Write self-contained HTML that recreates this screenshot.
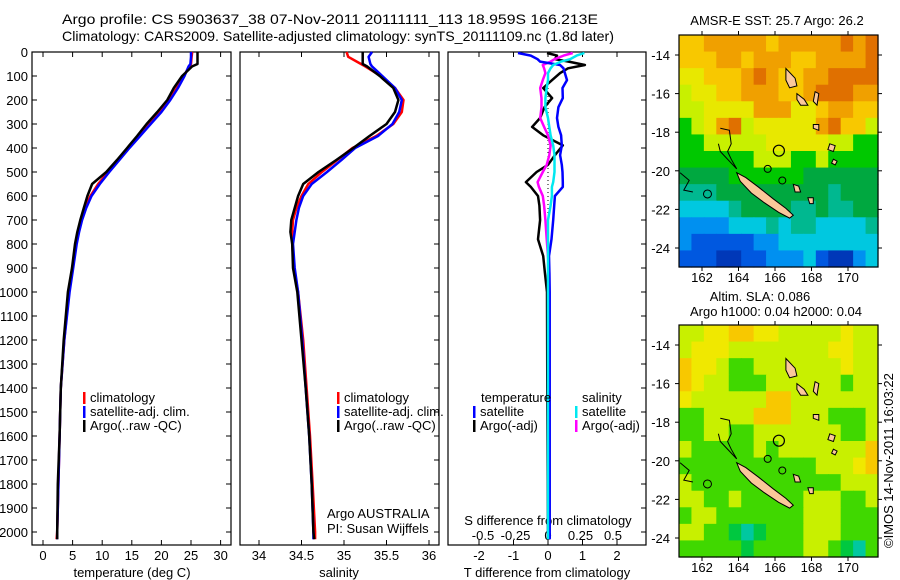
<!DOCTYPE html>
<html><head><meta charset="utf-8">
<style>
html,body{margin:0;padding:0;background:#fff;}
svg{display:block;font-family:"Liberation Sans",sans-serif;}
text{fill:#000;}
</style></head>
<body>
<svg id="fig" width="900" height="580" viewBox="0 0 900 580" xmlns="http://www.w3.org/2000/svg">
<text x="62" y="24" font-size="14" textLength="536" lengthAdjust="spacingAndGlyphs">Argo profile: CS 5903637_38 07-Nov-2011 20111111_113 18.959S 166.213E</text>
<text x="62" y="41" font-size="14" textLength="552" lengthAdjust="spacingAndGlyphs">Climatology: CARS2009. Satellite-adjusted climatology: synTS_20111109.nc (1.8d later)</text>
<g id="plots"></g>
</svg>
<script>
// ---------- data ----------
const depths = [0,20,50,60,100,150,200,250,300,350,400,450,500,550,600,650,700,750,800,900,1000,1200,1400,1600,1800,2000,2030];
const tempClim = [25.2,25.1,25.0,24.7,23.8,22.6,21.3,19.8,18.0,16.3,14.5,12.8,11.0,9.3,8.0,7.1,6.5,6.0,5.6,5.0,4.4,3.6,3.0,2.8,2.6,2.4,2.3];
const tempSat  = [25.0,25.0,24.9,24.6,23.9,22.8,21.5,20.0,18.2,16.4,14.6,12.9,11.2,9.6,8.2,7.3,6.6,6.1,5.7,5.1,4.5,3.6,3.0,2.8,2.6,2.4,2.4];
const tempArgo = [26.1,26.1,26.1,25.2,23.5,22.1,21.0,19.3,17.5,15.9,14.2,12.5,10.7,8.3,7.5,6.9,6.3,5.8,5.4,4.9,4.2,3.5,3.0,2.8,2.5,2.4,2.4];
const salClim = [35.03,35.05,35.2,35.25,35.43,35.6,35.7,35.68,35.58,35.38,35.1,34.92,34.74,34.58,34.5,34.44,34.4,34.39,34.39,34.41,34.46,34.52,34.56,34.6,34.63,34.66,34.66];
const salSat  = [35.33,35.29,35.31,35.33,35.45,35.6,35.68,35.65,35.57,35.4,35.13,34.97,34.8,34.62,34.52,34.47,34.44,34.42,34.4,34.42,34.46,34.51,34.55,34.59,34.62,34.64,34.64];
const salArgo = [35.22,35.22,35.22,35.27,35.42,35.58,35.64,35.6,35.5,35.3,35.11,34.91,34.7,34.52,34.46,34.42,34.38,34.37,34.39,34.4,34.45,34.5,34.55,34.59,34.62,34.64,34.65];
const diffDepths = [4,15,30,40,54,68,88,117,150,192,230,275,312,347,389,430,470,500,542,562,600,640,700,780,850,920,1000,1400,2000,2030];
const tDiffSat  = [-0.87,-0.5,-0.3,-0.23,0.35,0.45,0.49,0.55,0.42,0.43,0.3,0.26,0.3,0.38,0.4,0.35,0.4,0.42,0.43,0.43,0.2,0.18,0.15,0.1,0.03,0.04,0.05,0.05,0.05,0.05];
const tDiffArgo = [-0.03,0.26,0.2,0.6,1.07,0.58,0.35,0.12,-0.14,0.12,-0.1,-0.23,-0.46,-0.14,0.43,0.2,0.0,-0.33,-0.64,-0.5,-0.29,-0.25,-0.23,-0.29,-0.14,-0.09,-0.03,-0.02,0.0,0.0];
const sDiffSat  = [0.28,0.22,0.17,0.1,0.04,0.02,0.0,0.0,-0.01,-0.02,-0.02,0.0,0.01,0.02,0.04,0.05,0.05,0.05,0.04,0.03,0.03,0.02,0.0,0.0,0.0,0.0,0.0,0.0,0.0,0.0];
const sDiffArgo = [0.19,0.12,0.05,0.02,-0.04,-0.03,-0.02,-0.04,-0.06,-0.05,-0.05,-0.06,-0.03,0.0,0.02,0.01,-0.01,-0.04,-0.08,-0.07,-0.04,-0.03,-0.02,-0.01,0.0,0.01,0.01,0.01,0.01,0.01];
const depthTicks = [0,100,200,300,400,500,600,700,800,900,1000,1100,1200,1300,1400,1500,1600,1700,1800,1900,2000];
const tempTicks = [0,5,10,15,20,25,30];
const salTicks = [34,34.5,35,35.5,36];
const tDiffTicks = [-2,-1,0,1,2];
const sDiffTicks = [-0.5,-0.25,0,0.25,0.5];
const lonTicks = [162,164,166,168,170];
const latTicks = [-14,-16,-18,-20,-22,-24];
// SST grid rows (top=north)
const sstRows = ["YYoooooYoooooOoO","YYYooYoooYYooooO","yyYYYoOoYYooOOOO","lyyYYoooYYoOOOoo","llyyyyoooyyYooYY","GlyoOlyyyyyoOYYl","GGlllllyyyyyllGG","GGGGGGlllGGlGGGG","ggggGGGGGGgggggg","tttgggggggggtggg","cccctggggttgttgg","bbbbccctcttcccct","bBBBBBbbcccccccc","BBBDDBBbbbcBDDbc"];
const slaRows = ["llyyYYyylllllyll","lyyyllllllllyyll","YyylGGlllllllyll","YyllGGGllllllGll","yllllllYYlllllll","GGllllYYYlllGGGl","GGllGGlllllllGGl","lGGGGGlGlllllllY","GGGGGGGGGGGlllyY","lGGGGGGGGGGGGlll","llGGlGGGGGlllGGl","GllGGGGGGGlllGGG","llGGgtgGGGlllGGG","GGGGGgGGGGllGgtG"];

const NS="http://www.w3.org/2000/svg";
const root=document.getElementById('plots');
function el(tag,attrs,parent){const e=document.createElementNS(NS,tag);for(const k in attrs)e.setAttribute(k,attrs[k]);(parent||root).appendChild(e);return e;}
function txt(s,x,y,attrs,parent){const t=el('text',Object.assign({x:x,y:y,'font-size':12},attrs||{}),parent);t.textContent=s;return t;}

const TOP=52,BOT=545;
const yD=d=>TOP+d*0.24;
const panels=[
 {x0:32,x1:231,xf:v=>43+v*5.92,name:'temperature-panel'},
 {x0:240,x1:439,xf:v=>259+(v-34)*85,name:'salinity-panel'},
 {x0:448,x1:646,xf:v=>548+v*34.5,name:'difference-panel'}
];
const sX=v=>548+v*130;

function line(xs,vals,dArr,f,color,name,width){
  const g=el('polyline',{points:vals.map((v,i)=>f(v).toFixed(1)+','+yD(dArr[i]).toFixed(1)).join(' '),fill:'none',stroke:color,'stroke-width':width||2.5,'stroke-linejoin':'round'});
  
  
  return g;
}

panels.forEach((p,pi)=>{
  const fr=el('rect',{x:p.x0,y:TOP,width:p.x1-p.x0,height:BOT-TOP,fill:'none',stroke:'#000','stroke-width':1.2});
  
  
  depthTicks.forEach(d=>{
    if(pi==0){el('line',{x1:p.x0,x2:p.x0+5,y1:yD(d),y2:yD(d),stroke:'#000'});}
    el('line',{x1:p.x1-5,x2:p.x1,y1:yD(d),y2:yD(d),stroke:'#000'});
  });
});
depthTicks.forEach(d=>{
  const t=txt(String(d),28,yD(d)+5,{'text-anchor':'end','font-size':13});
  
  
});
// x ticks
function xTicks(p,ticks,f,labelY,fmt){
  ticks.forEach(v=>{
    const x=f(v);
    el('line',{x1:x,x2:x,y1:TOP,y2:TOP+5,stroke:'#000'});
    el('line',{x1:x,x2:x,y1:BOT-5,y2:BOT,stroke:'#000'});
    const t=txt(fmt?fmt(v):String(v),x,labelY,{'text-anchor':'middle','font-size':13});
    
    
  });
}
xTicks(panels[0],tempTicks,panels[0].xf,560);
xTicks(panels[1],salTicks,panels[1].xf,560);
xTicks(panels[2],tDiffTicks,panels[2].xf,560);
sDiffTicks.forEach(v=>{const t=txt(String(v).replace('-0.','-0.'),sX(v),540,{'text-anchor':'middle','font-size':13});
 });
[['temperature (deg C)',132],['salinity',339],['T difference from climatology',547]].forEach(a=>{
 const t=txt(a[0],a[1],577,{'text-anchor':'middle','font-size':13});
 });
{const t=txt('S difference from climatology',548,525,{'text-anchor':'middle','font-size':13});
 }

// series
line(0,tempClim,depths,panels[0].xf,'#ff0000','temp-climatology-line');
line(0,tempSat,depths,panels[0].xf,'#0000ff','temp-satellite-line');
line(0,tempArgo,depths,panels[0].xf,'#000000','temp-argo-line');
line(0,salClim,depths,panels[1].xf,'#ff0000','sal-climatology-line');
line(0,salSat,depths,panels[1].xf,'#0000ff','sal-satellite-line');
line(0,salArgo,depths,panels[1].xf,'#000000','sal-argo-line');
{const z=el('line',{x1:548,x2:548,y1:yD(150),y2:yD(1000),stroke:'#000','stroke-dasharray':'1,3'});
 }
line(0,tDiffArgo,diffDepths,panels[2].xf,'#000000','t-diff-argo-line');
line(0,sDiffArgo,diffDepths,sX,'#ff00ff','s-diff-argo-line');
line(0,tDiffSat,diffDepths,panels[2].xf,'#0000ff','t-diff-satellite-line');
line(0,sDiffSat,diffDepths,sX,'#00e8f0','s-diff-satellite-line');

// legends
function legend(x,y,items,prefix){
  items.forEach((it,i)=>{
    if(it[1]){const r=el('rect',{x:x,y:y+i*14-10,width:2.5,height:12,fill:it[1]});}
    const t=txt(it[0],x+(it[1]?7:0),y+i*14,{'font-size':13});
    
    
  });
}
legend(83,402,[['climatology','#ff0000'],['satellite-adj. clim.','#0000ff'],['Argo(..raw -QC)','#000000']],'temp');
legend(337,402,[['climatology','#ff0000'],['satellite-adj. clim.','#0000ff'],['Argo(..raw -QC)','#000000']],'sal');
legend(481,402,[['temperature',null]],'t-diff');
legend(473,416,[['satellite','#0000ff'],['Argo(-adj)','#000000']],'t-diff');
legend(582,402,[['salinity',null]],'s-diff');
legend(575,416,[['satellite','#00e8f0'],['Argo(-adj)','#ff00ff']],'s-diff');
{const t=txt('Argo AUSTRALIA',327,518,{'font-size':13});
 const u=txt('PI: Susan Wijffels',327,533,{'font-size':13});}

// ---------- maps ----------
const pal={O:'#e07000',o:'#f0a000',Y:'#f8c800',y:'#e8e800',l:'#c8f000',G:'#00c800',g:'#00a840',t:'#00b890',c:'#00c8e0',b:'#0090f0',B:'#0058e0',D:'#0038b8'};
const palSla={Y:'#f8c800',y:'#f0e800',l:'#c8f000',G:'#40d800',g:'#00c840',t:'#00c8a0'};
const MX0=679,MX1=878;
const lonX=lon=>702+(lon-162)*18.25;
function drawMap(y0,y1,rows,colors,name){
  const g=el('g',{});
  
  
  const latY=lat=>y0+20+(-14-lat)*19.3;
  const cw=(MX1-MX0)/rows[0].length,ch=(y1-y0)/rows.length;
  rows.forEach((r,ri)=>{for(let ci=0;ci<r.length;ci++){
    el('rect',{x:MX0+ci*cw,y:y0+ri*ch,width:cw+0.6,height:ch+0.6,fill:colors[r[ci]]},g);}});
  const P=pts=>pts.map(p=>lonX(p[0]).toFixed(1)+','+latY(p[1]).toFixed(1)).join(' ');
  const isl={fill:'#fbc89a',stroke:'#000','stroke-width':1};
  el('polygon',Object.assign({points:P([[163.9,-20.1],[164.4,-20.35],[165.1,-20.85],[165.9,-21.45],[166.6,-21.95],[167.0,-22.3],[166.8,-22.45],[166.2,-22.15],[165.4,-21.65],[164.7,-21.15],[164.1,-20.55]])},isl),g);
  el('polygon',Object.assign({points:P([[166.6,-14.7],[167.1,-15.2],[167.2,-15.6],[166.8,-15.7],[166.6,-15.3]])},isl),g);
  el('polygon',Object.assign({points:P([[167.2,-16.0],[167.6,-16.3],[167.8,-16.6],[167.4,-16.6],[167.2,-16.3]])},isl),g);
  el('polygon',Object.assign({points:P([[168.1,-17.6],[168.4,-17.6],[168.4,-17.9],[168.1,-17.8]])},isl),g);
  el('polygon',Object.assign({points:P([[168.2,-15.9],[168.4,-16.0],[168.3,-16.6],[168.1,-16.4]])},isl),g);
  el('polygon',Object.assign({points:P([[169.0,-18.6],[169.3,-18.7],[169.2,-19.0],[168.9,-18.9]])},isl),g);
  el('polygon',Object.assign({points:P([[169.2,-19.4],[169.4,-19.5],[169.3,-19.7],[169.1,-19.6]])},isl),g);
  el('polygon',Object.assign({points:P([[167.0,-20.7],[167.3,-20.8],[167.4,-21.1],[167.1,-21.1]])},isl),g);
  el('polygon',Object.assign({points:P([[167.8,-21.4],[168.1,-21.4],[168.1,-21.7],[167.9,-21.7]])},isl),g);
  el('polyline',{points:P([[163.0,-17.8],[163.5,-17.9],[163.6,-18.6],[163.4,-19.0],[163.6,-19.4],[163.9,-19.9],[163.5,-19.5],[163.0,-19.0],[162.9,-18.6]]),fill:'none',stroke:'#000','stroke-width':1},g);
  el('polyline',{points:P([[160.8,-20.1],[161.3,-20.5],[161.0,-21.0],[161.5,-21.1]]),fill:'none',stroke:'#000','stroke-width':1},g);
  el('circle',{cx:lonX(162.3),cy:latY(-21.2),r:4,fill:'none',stroke:'#000'},g);
  el('circle',{cx:lonX(165.6),cy:latY(-19.9),r:3.5,fill:'none',stroke:'#000'},g);
  el('circle',{cx:lonX(166.4),cy:latY(-20.5),r:3.5,fill:'none',stroke:'#000'},g);
  const loc=el('circle',{cx:lonX(166.213),cy:latY(-18.959),r:5.5,fill:'none',stroke:'#000','stroke-width':1.2},g);
  
  
  el('rect',{x:MX0,y:y0,width:MX1-MX0,height:y1-y0,fill:'none',stroke:'#000','stroke-width':1.2},g);
  lonTicks.forEach(lon=>{const x=lonX(lon);
    el('line',{x1:x,x2:x,y1:y0-4,y2:y0,stroke:'#000'},g);el('line',{x1:x,x2:x,y1:y1,y2:y1+4,stroke:'#000'},g);
    const t=txt(String(lon),x,y1+15,{'text-anchor':'middle','font-size':13},g);
    });
  latTicks.forEach(lat=>{const y=latY(lat);
    el('line',{x1:MX0-4,x2:MX0,y1:y,y2:y,stroke:'#000'},g);el('line',{x1:MX1,x2:MX1+4,y1:y,y2:y,stroke:'#000'},g);
    const t=txt(String(lat),670,y+5,{'text-anchor':'end','font-size':13},g);
    });
}
drawMap(35,267,sstRows,pal,'sst-map');
drawMap(325,557,slaRows,palSla,'sla-map');
{const t=txt('AMSR-E SST: 25.7 Argo: 26.2',777,25,{'text-anchor':'middle','font-size':13});
 const a=txt('Altim. SLA: 0.086',760,301,{'text-anchor':'middle','font-size':13});
 const b=txt('Argo h1000: 0.04 h2000: 0.04',776,316,{'text-anchor':'middle','font-size':13});
 const c=txt('©IMOS 14-Nov-2011 16:03:22',0,0,{'font-size':13,transform:'translate(893,548) rotate(-90)'});}
</script>
</body></html>
